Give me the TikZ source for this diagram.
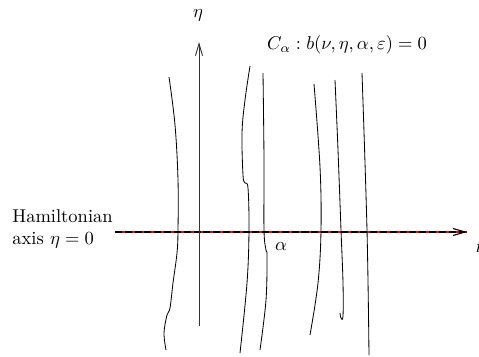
\documentclass[tikz,border=0pt]{standalone}
\usetikzlibrary{arrows.meta}
\begin{document}
\begin{tikzpicture}[x=0.54pt,y=-0.54pt,
  curve/.style={black,line width=0.45pt},
  axisline/.style={black!80,line width=0.5pt,-{Straight Barb[length=6.5pt,width=3.8pt]}},
  lbl/.style={inner sep=0pt}]
\useasboundingbox (0,0) rectangle (479,356);
% axes
\coordinate (hstart) at (115,232);
\coordinate (hend) at (467,232);
\coordinate (vstart) at (199,326);
\coordinate (vend) at (199,42);
\draw[red,line width=0.7pt] (hstart) -- (hend);
\draw[axisline,black,line width=0.6pt,dash pattern=on 3.8pt off 1.5pt] (hstart) -- (hend);
\draw[axisline] (vstart) -- (vend);
% labels
\node[lbl] (eta) at (198,15) {$\eta$};
\node[lbl] (nu) at (481,249) {$\nu$};
\node[lbl] (calpha) at (347,45) {$C_\alpha : b(\nu,\eta,\alpha,\varepsilon) = 0$};
\node[lbl] (alpha) at (281,247) {$\alpha$};
\node[lbl,align=left,anchor=west] (ham) at (12,229) {Hamiltonian\\axis $\eta = 0$};
% curves
\draw[curve] plot[smooth,tension=0.6] coordinates {(169,77) (175,125) (178,180) (178,230) (177,253) (173,283) (170,308) (167,315) (164,333) (166,350)};
\draw[curve] plot[smooth,tension=0.6] coordinates {(250,66) (245,100) (242,133) (243,175) (245,183) (248,188) (249,230) (247,283) (240,353)};
\draw[curve] plot[smooth,tension=0.6] coordinates {(263,73) (264,160) (264,230) (266,250) (267,256) (266,300) (260,350)};
\draw[curve] plot[smooth,tension=0.6] coordinates {(314,84) (320,167) (321,230) (318,283) (310,335)};
\draw[curve] plot[smooth,tension=0.6] coordinates {(335,80) (338,150) (341,230) (343,283) (343,316) (341,318) (340,313)};
\draw[curve] plot[smooth,tension=0.6] coordinates {(362,73) (367,230) (369,355)};
\end{tikzpicture}
\end{document}
